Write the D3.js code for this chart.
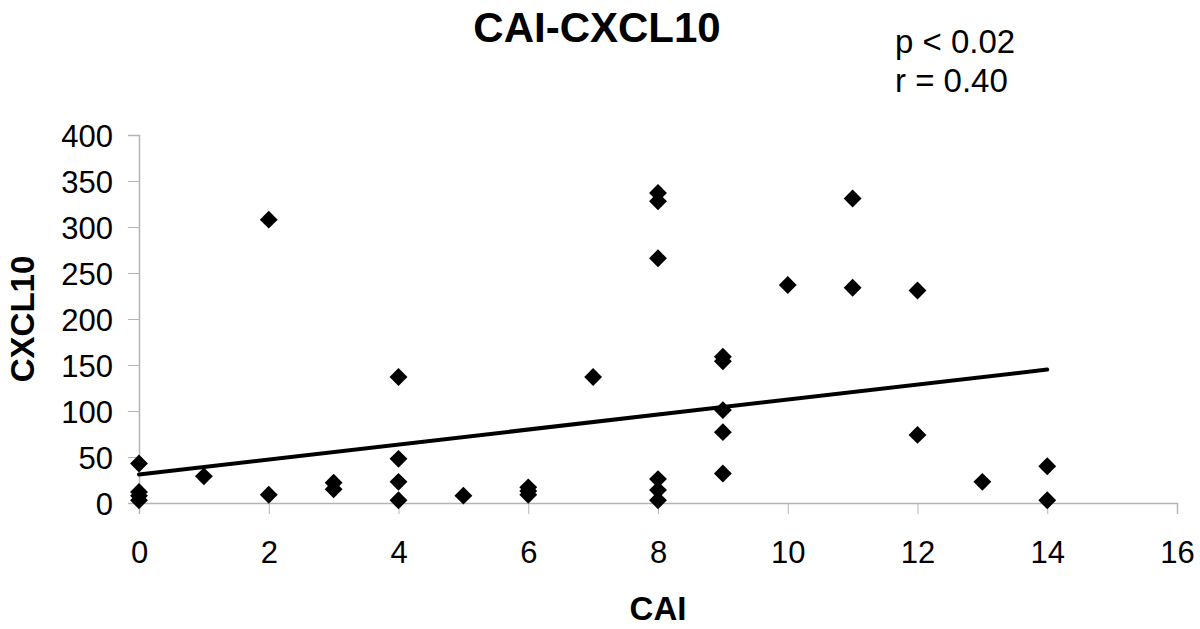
<!DOCTYPE html>
<html>
<head>
<meta charset="utf-8">
<script src="https://d3js.org/d3.v7.min.js"></script>
<style>
  body { margin: 0; background: #fff; }
  text { font-family: "Liberation Sans", Arial, sans-serif; }
</style>
</head>
<body>
<div id="chart"></div>
<script>
// CAI score and CXCL10 value of each patient
const caiValues = [0, 0, 0, 0, 1, 2, 2, 3, 3, 4, 4, 4, 4, 5, 6, 6, 6, 7,
  8, 8, 8, 8, 8, 8, 9, 9, 9, 9, 9, 10, 11, 11, 12, 12, 13, 14, 14];
const cxcl10Values = [43, 12, 8, 3, 29, 308, 9, 22, 15, 137, 48, 23, 3, 8, 17, 13, 9, 137,
  337, 328, 266, 26, 14, 3, 159, 154, 101, 77, 32, 237, 331, 234, 231, 74, 23, 40, 3];

// trend line
const trendX = [0, 14];
const trendY = [31, 145];

const xTicks = [0, 2, 4, 6, 8, 10, 12, 14, 16];
const yTicks = [0, 50, 100, 150, 200, 250, 300, 350, 400];
const statLines = ["p < 0.02", "r = 0.40"];

const points = caiValues.map((c, i) => ({ cai: c, cxcl10: cxcl10Values[i] }));

const W = 1200, H = 629;
const margin = { top: 135, right: 23, bottom: 126, left: 139 };
const width = W - margin.left - margin.right,
  height = H - margin.top - margin.bottom;

const svg = d3.select("#chart").append("svg")
  .attr("width", W)
  .attr("height", H);

const g = svg.append("g")
  .attr("transform", `translate(${margin.left},${margin.top})`);

// Scales
const x = d3.scaleLinear().domain([0, 16]).range([0, width]);
const y = d3.scaleLinear().domain([0, 400]).range([height, 0]);

const axisColor = "#b4b4b4";

// Axes
const xAxis = g.append("g")
  .attr("transform", `translate(0,${height})`)
  .call(d3.axisBottom(x).tickValues(xTicks).tickSize(11).tickPadding(27).tickFormat(d3.format("d")));

const yAxis = g.append("g")
  .call(d3.axisLeft(y).tickValues(yTicks).tickSize(11).tickPadding(15).tickFormat(d3.format("d")));

[xAxis, yAxis].forEach(ax => {
  ax.select(".domain").attr("stroke", axisColor).attr("stroke-width", 1.5);
  ax.selectAll(".tick line").attr("stroke", axisColor).attr("stroke-width", 1);
  ax.selectAll(".tick text")
    .attr("fill", "#000")
    .style("font-size", "31px")
    .style("font-family", "'Liberation Sans', Arial, sans-serif");
});
yAxis.selectAll(".tick text").attr("dy", "0.36em");

// Trend line
g.append("line")
  .attr("x1", x(trendX[0]))
  .attr("y1", y(trendY[0]))
  .attr("x2", x(trendX[1]))
  .attr("y2", y(trendY[1]))
  .attr("stroke", "#000")
  .attr("stroke-width", 4)
  .attr("stroke-linecap", "round");

// Diamond markers
const diamond = d3.symbol().type(d3.symbolSquare).size(160);
g.selectAll("path.pt")
  .data(points)
  .join("path")
  .attr("class", "pt")
  .attr("d", diamond)
  .attr("transform", d => `translate(${x(d.cai)},${y(d.cxcl10)}) rotate(45)`)
  .attr("fill", "#000");

// Title
svg.append("text")
  .attr("x", 597)
  .attr("y", 42)
  .attr("text-anchor", "middle")
  .style("font-size", "42px")
  .style("font-weight", "bold")
  .text("CAI-CXCL10");

// p / r annotation
svg.selectAll("text.stat")
  .data(statLines)
  .join("text")
  .attr("class", "stat")
  .attr("x", 895)
  .attr("y", (d, i) => 53 + i * 39)
  .style("font-size", "33px")
  .text(d => d);

// Axis titles
svg.append("text")
  .attr("x", 658)
  .attr("y", 620)
  .attr("text-anchor", "middle")
  .style("font-size", "33px")
  .style("font-weight", "bold")
  .text("CAI");

svg.append("text")
  .attr("transform", `translate(34,${margin.top + height / 2}) rotate(-90)`)
  .attr("text-anchor", "middle")
  .style("font-size", "33px")
  .style("font-weight", "bold")
  .text("CXCL10");
</script>
</body>
</html>
